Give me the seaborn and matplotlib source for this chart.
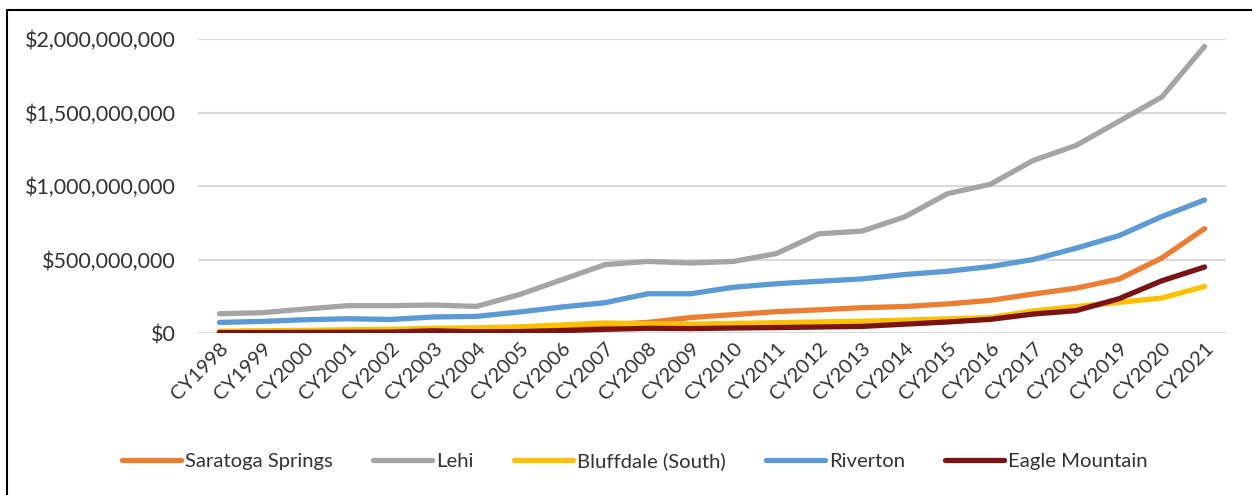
import matplotlib
matplotlib.use("Agg")
import matplotlib.pyplot as plt
from matplotlib.lines import Line2D
from matplotlib.ticker import FuncFormatter
import seaborn as sns
import pandas as pd

years = [f"CY{y}" for y in range(1998, 2022)]

saratoga_springs = [3e6, 5e6, 8e6, 10e6, 12e6, 20e6, 22e6, 28e6, 40e6, 55e6, 72e6, 105e6,
                    125e6, 145e6, 158e6, 172e6, 180e6, 198e6, 222e6, 265e6, 305e6, 367e6,
                    510e6, 710e6]
lehi = [131e6, 138e6, 163e6, 186e6, 186e6, 190e6, 181e6, 261e6, 363e6, 465e6, 487e6, 476e6,
        487e6, 540e6, 675e6, 693e6, 790e6, 948e6, 1012e6, 1174e6, 1276e6, 1440e6,
        1605e6, 1950e6]
bluffdale_south = [12e6, 15e6, 18e6, 22e6, 25e6, 32e6, 35e6, 42e6, 55e6, 68e6, 62e6, 60e6,
                   65e6, 70e6, 75e6, 80e6, 88e6, 96e6, 105e6, 150e6, 180e6, 208e6,
                   238e6, 317e6]
riverton = [72e6, 79e6, 90e6, 97e6, 92e6, 109e6, 113e6, 143e6, 177e6, 206e6, 267e6, 267e6,
            311e6, 335e6, 352e6, 368e6, 398e6, 420e6, 452e6, 500e6, 577e6, 662e6,
            792e6, 905e6]
eagle_mountain = [3e6, 3e6, 4e6, 5e6, 6e6, 15e6, 8e6, 10e6, 16e6, 25e6, 32e6, 30e6,
                  34e6, 37e6, 41e6, 45e6, 60e6, 75e6, 93e6, 129e6, 152e6, 233e6,
                  355e6, 449e6]

series = {
    "Saratoga Springs": saratoga_springs,
    "Lehi": lehi,
    "Bluffdale (South)": bluffdale_south,
    "Riverton": riverton,
    "Eagle Mountain": eagle_mountain,
}
colors = {
    "Saratoga Springs": "#ED7D31",
    "Lehi": "#A5A5A5",
    "Bluffdale (South)": "#FFC000",
    "Riverton": "#5B9BD5",
    "Eagle Mountain": "#7B1313",
}

df = pd.concat(
    [pd.DataFrame({"Year": years, "Value": vals, "City": name}) for name, vals in series.items()],
    ignore_index=True,
)

sns.set_theme(style="white")
plt.rcParams["font.family"] = ["Lato", "DejaVu Sans"]
text_color = "#333333"

fig = plt.figure(figsize=(12.52, 4.95), dpi=100)
ax = fig.add_axes([198 / 1252, 1 - 333 / 495, (1226 - 198) / 1252, (333 - 39) / 495])

sns.lineplot(data=df, x="Year", y="Value", hue="City", palette=colors, sort=False,
             linewidth=3.8, solid_capstyle="round", ax=ax, legend=False, zorder=3)

ax.set_xlim(-0.5, len(years) - 0.5)
ax.set_ylim(0, 2e9)
ax.set_yticks([0, 5e8, 1e9, 1.5e9, 2e9])
ax.yaxis.set_major_formatter(FuncFormatter(lambda v, p: f"${v:,.0f}"))
ax.yaxis.grid(True, color="#D9D9D9", linewidth=1.5, zorder=0)
ax.xaxis.grid(False)
for s in ax.spines.values():
    s.set_visible(False)
ax.set_xlabel("")
ax.set_ylabel("")
ax.tick_params(axis="y", length=0, pad=16, labelsize=15.5, labelcolor=text_color)
ax.tick_params(axis="x", length=0, pad=5, labelsize=14.5, labelcolor=text_color)
ax.set_xticks(range(len(years)))
ax.set_xticklabels(years, rotation=45, ha="right", va="top", rotation_mode="anchor")

handles = [Line2D([0], [0], color=colors[n], linewidth=3.8, solid_capstyle="round")
           for n in series]
fig.legend(handles, list(series.keys()), loc="center", bbox_to_anchor=(0.507, 1 - 461 / 495),
           ncol=5, frameon=False, fontsize=14.6, handlelength=2.9, handletextpad=0.2,
           columnspacing=2.0, labelcolor=text_color)

# Border frame of the chart area
fig.add_artist(Line2D([7 / 1252, 7 / 1252], [0, 1 - 10 / 495], color="black", linewidth=1.5,
                      transform=fig.transFigure))
fig.add_artist(Line2D([7 / 1252, 1], [1 - 10 / 495, 1 - 10 / 495], color="black", linewidth=1.5,
                      transform=fig.transFigure))

fig.savefig("out.png", dpi=100, facecolor="white")
